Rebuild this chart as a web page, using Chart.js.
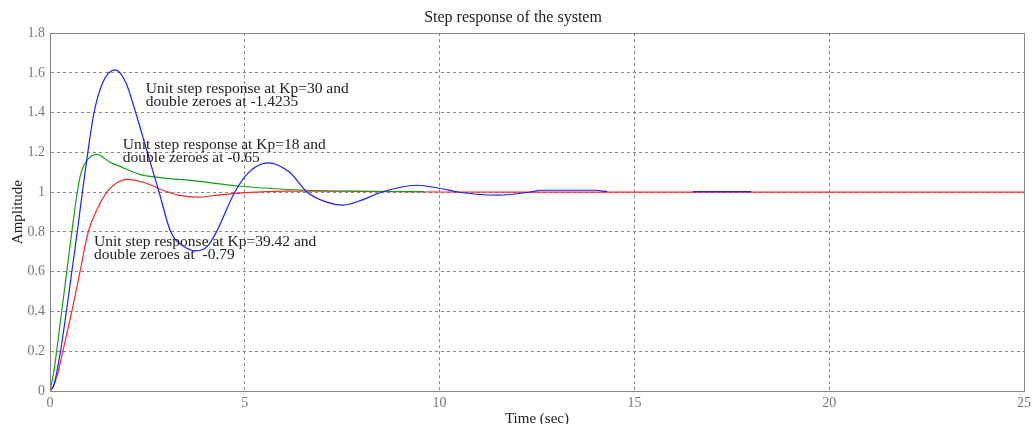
<!DOCTYPE html>
<html>
<head>
<meta charset="utf-8">
<script src="https://cdn.jsdelivr.net/npm/chart.js@4/dist/chart.umd.min.js"></script>
<style>
    html, body { margin: 0; padding: 0; background: #fff; }
    #wrap { width: 1035px; height: 424px; position: relative; }
</style>
</head>
<body>
<div id="wrap"><canvas id="stepChart"></canvas></div>
<script>
// Step response data (time in sec, amplitude)
const xTicks = [0, 5, 10, 15, 20, 25];
const yTicks = [0, 0.2, 0.4, 0.6, 0.8, 1, 1.2, 1.4, 1.6, 1.8];

// Kp=30, double zeroes at -1.4235 (blue)
const blueTime = [0, 0.1, 0.27, 0.42, 0.56, 0.7, 0.83, 0.97, 1.13, 1.35, 1.67, 1.95, 2.2, 2.5, 2.8, 3.1, 3.5, 3.77, 4.05, 4.27, 4.74, 5.1, 5.6, 6.15, 6.6, 7.1, 7.5, 8.0, 8.5, 9.4, 10.0, 10.5, 11.5, 12.3, 12.6, 14.0, 14.3, 14.4, 16.5, 18.0];
const blueAmp  = [0, 0.03, 0.2, 0.4, 0.6, 0.8, 1.0, 1.2, 1.4, 1.55, 1.615, 1.55, 1.4, 1.2, 1.0, 0.8, 0.72, 0.705, 0.73, 0.8, 1.0, 1.1, 1.148, 1.1, 1.0, 0.95, 0.935, 0.96, 1.0, 1.035, 1.02, 1.0, 0.985, 1.0, 1.01, 1.01, 1.003, null, 1.003, 1.003];

// Kp=18, double zeroes at -0.65 (green)
const greenTime = [0, 0.1, 0.17, 0.3, 0.43, 0.56, 0.7, 0.8, 0.95, 1.2, 1.55, 1.8, 2.3, 3.0, 3.6, 4.9, 6.6, 8.0, 9.6];
const greenAmp  = [0, 0.1, 0.2, 0.4, 0.6, 0.8, 1.0, 1.1, 1.16, 1.19, 1.15, 1.13, 1.09, 1.07, 1.06, 1.03, 1.01, 1.005, 1.003];

// Kp=39.42, double zeroes at -0.79 (red)
const redTime = [0, 0.1, 0.2, 0.33, 0.56, 0.77, 0.98, 1.2, 1.46, 1.7, 1.97, 2.4, 2.9, 3.3, 3.77, 4.3, 5.0, 6.0, 7.0, 8.0, 10, 12, 25];
const redAmp  = [0, 0.03, 0.09, 0.2, 0.4, 0.6, 0.8, 0.91, 1.0, 1.045, 1.065, 1.05, 1.01, 0.985, 0.975, 0.985, 0.998, 1.006, 1.006, 1.004, 1.001, 1.0, 1.0];

const notes = [
    { lines: ['Unit step response at Kp=30 and', 'double zeroes at -1.4235'], t: 2.46, a: 1.52 },
    { lines: ['Unit step response at Kp=18 and', 'double zeroes at -0.65'], t: 1.87, a: 1.236 },
    { lines: ['Unit step response at Kp=39.42 and', 'double zeroes at  -0.79'], t: 1.13, a: 0.749 }
];

const SERIF = '"Liberation Serif", "DejaVu Serif", serif';

function toPoints(ts, ys) {
    return ts.map((t, i) => ({ x: t, y: ys[i] }));
}

// draws the text notes inside the plot area
const notesPlugin = {
    id: 'notes',
    afterDatasetsDraw(chart) {
        const ctx = chart.ctx;
        const xs = chart.scales.x, ys = chart.scales.y;
        ctx.save();
        ctx.font = '15.5px ' + SERIF;
        ctx.fillStyle = '#222';
        ctx.textBaseline = 'middle';
        notes.forEach(n => {
            const px = xs.getPixelForValue(n.t);
            const py = ys.getPixelForValue(n.a);
            n.lines.forEach((s, i) => ctx.fillText(s, px, py + i * 13));
        });
        ctx.restore();
    }
};

const line = (pts, color) => ({
    data: pts,
    borderColor: color,
    borderWidth: 1.2,
    pointRadius: 0,
    fill: false,
    spanGaps: false,
    cubicInterpolationMode: 'monotone'
});

new Chart(document.getElementById('stepChart'), {
    type: 'line',
    data: {
        datasets: [
            line(toPoints(blueTime, blueAmp), 'rgb(30,30,255)'),
            line(toPoints(greenTime, greenAmp), 'rgb(20,160,20)'),
            line(toPoints(redTime, redAmp), 'rgb(255,40,40)')
        ]
    },
    options: {
        responsive: true,
        maintainAspectRatio: false,
        animation: false,
        parsing: false,
        layout: { padding: { top: 0, right: 9, left: 0, bottom: 0 } },
        plugins: {
            legend: { display: false },
            tooltip: { enabled: false },
            title: {
                display: true,
                text: 'Step response of the system',
                color: '#222',
                font: { family: SERIF, size: 16, weight: 'normal' },
                padding: { top: 8, bottom: 6 }
            }
        },
        scales: {
            x: {
                type: 'linear',
                min: 0,
                max: 25,
                afterBuildTicks: s => { s.ticks = xTicks.map(v => ({ value: v })); },
                afterFit: s => { s.height = 33; },
                grid: { color: '#888', lineWidth: 1, drawTicks: false },
                border: { color: '#888', dash: [3, 3] },
                ticks: {
                    color: '#777',
                    padding: 4,
                    maxRotation: 0,
                    font: { family: SERIF, size: 14 }
                },
                title: {
                    display: true,
                    text: 'Time (sec)',
                    color: '#222',
                    padding: { top: 0, bottom: -4 },
                    font: { family: SERIF, size: 15 }
                }
            },
            y: {
                min: 0,
                max: 1.8,
                afterBuildTicks: s => { s.ticks = yTicks.map(v => ({ value: v })); },
                afterFit: s => { s.width = 50; },
                grid: { color: '#888', lineWidth: 1, drawTicks: false },
                border: { color: '#888', dash: [3, 3] },
                ticks: {
                    color: '#777',
                    padding: 5,
                    font: { family: SERIF, size: 14 },
                    callback: v => String(+v.toFixed(1))
                },
                title: {
                    display: true,
                    text: 'Amplitude',
                    color: '#222',
                    padding: { top: 9, bottom: 0 },
                    font: { family: SERIF, size: 15 }
                }
            }
        }
    },
    plugins: [notesPlugin, {
        // solid frame around the plot area, dashed grid inside
        id: 'frame',
        afterDraw(chart) {
            const a = chart.chartArea, ctx = chart.ctx;
            ctx.save();
            ctx.strokeStyle = '#888';
            ctx.lineWidth = 1;
            ctx.strokeRect(Math.round(a.left) + 0.5, Math.round(a.top) + 0.5,
                Math.round(a.right - a.left), Math.round(a.bottom - a.top));
            ctx.restore();
        }
    }]
});
</script>
</body>
</html>
